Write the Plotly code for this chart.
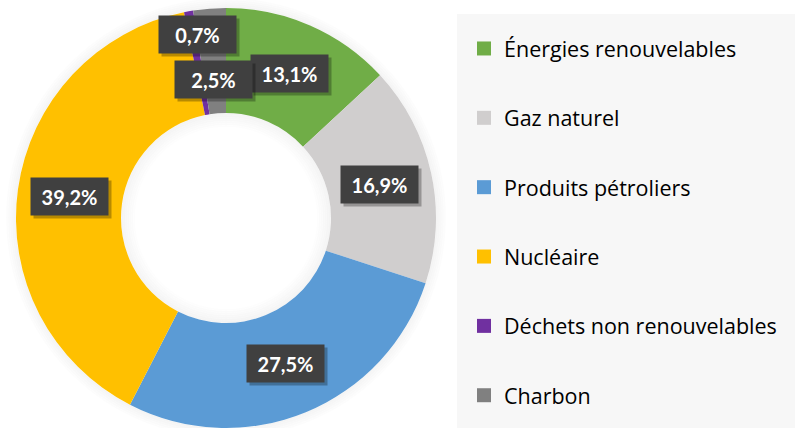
import math
import plotly.graph_objects as go

# ---- data ----
categories = ["Énergies renouvelables", "Gaz naturel", "Produits pétroliers",
              "Nucléaire", "Déchets non renouvelables", "Charbon"]
values = [13.1, 16.9, 27.5, 39.2, 0.7, 2.5]
value_labels = ["13,1%", "16,9%", "27,5%", "39,2%", "0,7%", "2,5%"]
colors = ["#70AD47", "#D0CECE", "#5B9BD5", "#FFC000", "#7030A0", "#808080"]

# ---- geometry (pixels) ----
W, H = 795, 428
CX, CY, R = 226, 218, 210
HOLE = 0.5

def px_to_paper(x, y):
    return x / W, 1 - y / H

fig = go.Figure()

fig.add_trace(go.Pie(
    labels=categories, values=values, sort=False, direction="clockwise",
    rotation=0, hole=HOLE, marker=dict(colors=colors, line=dict(width=0)),
    textinfo="none", hoverinfo="label+percent", showlegend=False,
    domain=dict(x=[(CX - R) / W, (CX + R) / W], y=[(H - CY - R) / H, (H - CY + R) / H]),
))

# legend entries (one per category, spaced by legend groups)
for i, (cat, col) in enumerate(zip(categories, colors)):
    fig.add_trace(go.Scatter(
        x=[None], y=[None], mode="markers", name=cat, legendgroup=str(i),
        marker=dict(symbol="square", size=14, color=col),
        hoverinfo="skip",
    ))

# value labels placed at mid-angle / mid-ring
total = sum(values)
r_mid = R * (1 + HOLE) / 2
nudges = {"0,7%": 29, "2,5%": -19}
annotations = []
cum = 0
for v, lab in zip(values, value_labels):
    ang = 2 * math.pi * (cum + v / 2) / total
    cum += v
    px = CX + r_mid * math.sin(ang)
    py = CY - r_mid * math.cos(ang)
    ax, ay = px_to_paper(px, py)
    ys = nudges.get(lab, 0)
    common = dict(x=ax, y=ay, xref="paper", yref="paper", showarrow=False,
                  xanchor="center", yanchor="middle", width=73, height=33, borderpad=2)
    # drop shadow box (no text)
    annotations.append(dict(
        common, text=" ", xshift=3, yshift=ys - 3,
        bgcolor="rgba(0,0,0,0.28)",
        font=dict(size=20, family="Lato"),
    ))
    annotations.append(dict(
        common, text="<b>%s</b>" % lab, yshift=ys,
        bgcolor="#404040", font=dict(color="white", size=20, family="Lato"),
    ))

shapes = []
# legend background panel
shapes.append(dict(type="rect", xref="paper", yref="paper", layer="below",
                   x0=457 / W, x1=1, y0=0, y1=1 - 14 / H,
                   fillcolor="#F7F7F7", line=dict(width=0)))
# soft outer shadow around the donut
for k in range(1, 6):
    rr = R + 2 * k - 1
    x0, y0 = px_to_paper(CX - rr, CY + rr)
    x1, y1 = px_to_paper(CX + rr, CY - rr)
    shapes.append(dict(type="circle", xref="paper", yref="paper", layer="below",
                       x0=x0, x1=x1, y0=y0, y1=y1,
                       line=dict(color="rgba(0,0,0,%.3f)" % (0.05 - 0.008 * k), width=2)))
# inner shadow in the hole
rh = R * HOLE
for k in range(0, 7):
    rr = rh - 2 * k - 1
    x0, y0 = px_to_paper(CX - rr, CY + rr)
    x1, y1 = px_to_paper(CX + rr, CY - rr)
    shapes.append(dict(type="circle", xref="paper", yref="paper", layer="below",
                       x0=x0, x1=x1, y0=y0, y1=y1,
                       line=dict(color="rgba(0,0,0,%.3f)" % (0.045 - 0.006 * k), width=2)))

fig.update_layout(
    width=W, height=H,
    margin=dict(l=0, r=0, t=0, b=0, autoexpand=False),
    paper_bgcolor="white", plot_bgcolor="rgba(0,0,0,0)",
    xaxis=dict(visible=False), yaxis=dict(visible=False),
    showlegend=True,
    legend=dict(x=464 / W, xanchor="left", y=1 - 28 / H, yanchor="top",
                bgcolor="rgba(0,0,0,0)", tracegroupgap=38.4,
                font=dict(family="Open Sans", size=21.5, color="#000000"),
                itemclick=False, itemdoubleclick=False),
    annotations=annotations,
    shapes=shapes,
)

fig.write_html("out.html", config={"displayModeBar": False},
               post_script="document.body.style.margin='0px';document.body.style.overflow='hidden';")
